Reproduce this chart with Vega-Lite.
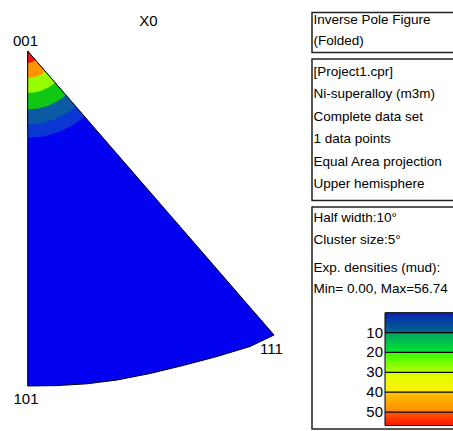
{
  "$schema": "https://vega.github.io/schema/vega-lite/v6.json",
  "width": 453,
  "height": 431,
  "padding": 0,
  "autosize": {"type": "fit", "contains": "padding"},
  "background": "white",
  "config": {"view": {"stroke": null}, "text": {"font": "Liberation Sans", "color": "black"}},
  "datasets": {
    "outline": [
      {"i": 0, "x": 27.7, "y": 51},
      {"i": 1, "x": 27.7, "y": 386},
      {"i": 2, "x": 57, "y": 385.6},
      {"i": 3, "x": 87, "y": 383.8},
      {"i": 4, "x": 117, "y": 380},
      {"i": 5, "x": 150, "y": 373.5},
      {"i": 6, "x": 183, "y": 365.5},
      {"i": 7, "x": 217, "y": 356.5},
      {"i": 8, "x": 250, "y": 346.5},
      {"i": 9, "x": 274, "y": 335},
      {"i": 10, "x": 27.7, "y": 51}
    ],
    "polys": [
      {"band": "b0", "i": 0, "x": 27.7, "y": 51},
      {"band": "b0", "i": 1, "x": 27.7, "y": 386},
      {"band": "b0", "i": 2, "x": 57, "y": 385.6},
      {"band": "b0", "i": 3, "x": 87, "y": 383.8},
      {"band": "b0", "i": 4, "x": 117, "y": 380},
      {"band": "b0", "i": 5, "x": 150, "y": 373.5},
      {"band": "b0", "i": 6, "x": 183, "y": 365.5},
      {"band": "b0", "i": 7, "x": 217, "y": 356.5},
      {"band": "b0", "i": 8, "x": 250, "y": 346.5},
      {"band": "b0", "i": 9, "x": 274, "y": 335},
      {"band": "b0", "i": 10, "x": 27.7, "y": 51},
      {"band": "b6", "i": 0, "x": 27.7, "y": 51},
      {"band": "b6", "i": 1, "x": 27.7, "y": 138},
      {"band": "b6", "i": 2, "x": 43.15, "y": 136.62},
      {"band": "b6", "i": 3, "x": 58.12, "y": 132.51},
      {"band": "b6", "i": 4, "x": 72.11, "y": 125.81},
      {"band": "b6", "i": 5, "x": 84.69, "y": 116.73},
      {"band": "b6", "i": 6, "x": 27.7, "y": 51},
      {"band": "b5", "i": 0, "x": 27.7, "y": 51},
      {"band": "b5", "i": 1, "x": 27.7, "y": 124.5},
      {"band": "b5", "i": 2, "x": 40.75, "y": 123.33},
      {"band": "b5", "i": 3, "x": 53.4, "y": 119.86},
      {"band": "b5", "i": 4, "x": 65.22, "y": 114.2},
      {"band": "b5", "i": 5, "x": 75.84, "y": 106.53},
      {"band": "b5", "i": 6, "x": 27.7, "y": 51},
      {"band": "b4", "i": 0, "x": 27.7, "y": 51},
      {"band": "b4", "i": 1, "x": 27.7, "y": 109.5},
      {"band": "b4", "i": 2, "x": 38.09, "y": 108.57},
      {"band": "b4", "i": 3, "x": 48.15, "y": 105.81},
      {"band": "b4", "i": 4, "x": 57.56, "y": 101.3},
      {"band": "b4", "i": 5, "x": 66.02, "y": 95.2},
      {"band": "b4", "i": 6, "x": 27.7, "y": 51},
      {"band": "b3", "i": 0, "x": 27.7, "y": 51},
      {"band": "b3", "i": 1, "x": 27.7, "y": 93},
      {"band": "b3", "i": 2, "x": 35.16, "y": 92.33},
      {"band": "b3", "i": 3, "x": 42.38, "y": 90.35},
      {"band": "b3", "i": 4, "x": 49.14, "y": 87.12},
      {"band": "b3", "i": 5, "x": 55.21, "y": 82.73},
      {"band": "b3", "i": 6, "x": 27.7, "y": 51},
      {"band": "b2", "i": 0, "x": 27.7, "y": 51},
      {"band": "b2", "i": 1, "x": 27.7, "y": 78},
      {"band": "b2", "i": 2, "x": 32.5, "y": 77.57},
      {"band": "b2", "i": 3, "x": 37.14, "y": 76.3},
      {"band": "b2", "i": 4, "x": 41.48, "y": 74.22},
      {"band": "b2", "i": 5, "x": 45.39, "y": 71.4},
      {"band": "b2", "i": 6, "x": 27.7, "y": 51},
      {"band": "b1", "i": 0, "x": 27.7, "y": 51},
      {"band": "b1", "i": 1, "x": 27.7, "y": 63},
      {"band": "b1", "i": 2, "x": 31.9, "y": 62.24},
      {"band": "b1", "i": 3, "x": 35.56, "y": 60.07},
      {"band": "b1", "i": 4, "x": 27.7, "y": 51}
    ],
    "poles": [
      {"t": "X0", "x": 148.5, "y": 21},
      {"t": "001", "x": 25.5, "y": 40.5},
      {"t": "101", "x": 26, "y": 399},
      {"t": "111", "x": 271.5, "y": 348.5}
    ],
    "info": [
      {"t": "Inverse Pole Figure", "y": 19.5},
      {"t": "(Folded)", "y": 41},
      {"t": "[Project1.cpr]", "y": 71.5},
      {"t": "Ni-superalloy (m3m)", "y": 93.5},
      {"t": "Complete data set", "y": 116.5},
      {"t": "1 data points", "y": 139},
      {"t": "Equal Area projection", "y": 161.5},
      {"t": "Upper hemisphere", "y": 184},
      {"t": "Half width:10°", "y": 218},
      {"t": "Cluster size:5°", "y": 240},
      {"t": "Exp. densities (mud):", "y": 268},
      {"t": "Min= 0.00, Max=56.74", "y": 289}
    ],
    "boxes": [
      {"x": 312, "x2": 460, "y": 12.5, "y2": 52.5},
      {"x": 312, "x2": 460, "y": 59, "y2": 200.5},
      {"x": 312, "x2": 460, "y": 207, "y2": 429}
    ],
    "bar": [{"lo": 0, "hi": 56.74}],
    "levels": [{"level": 10}, {"level": 20}, {"level": 30}, {"level": 40}, {"level": 50}]
  },
  "resolve": {"scale": {"y": "independent"}},
  "layer": [
    {
      "layer": [
        {
          "data": {"name": "polys"},
          "mark": {"type": "line", "filled": true, "strokeWidth": 0},
          "encoding": {
            "x": {"field": "x", "type": "quantitative", "scale": {"domain": [0, 453], "nice": false, "zero": false}, "axis": null},
            "y": {"field": "y", "type": "quantitative", "scale": {"domain": [0, 431], "nice": false, "zero": false, "reverse": true}, "axis": null},
            "order": {"field": "i", "type": "quantitative"},
            "color": {"field": "band", "type": "nominal", "legend": null,
              "scale": {"domain": ["b0", "b6", "b5", "b4", "b3", "b2", "b1"], "range": ["#0202f0", "#0a36d4", "#0a5aa4", "#10c814", "#98ff00", "#ff9400", "#f41010"]}}
          }
        },
        {
          "data": {"name": "outline"},
          "mark": {"type": "line", "stroke": "black", "strokeWidth": 1},
          "encoding": {
            "x": {"field": "x", "type": "quantitative", "scale": {"domain": [0, 453], "nice": false, "zero": false}, "axis": null},
            "y": {"field": "y", "type": "quantitative", "scale": {"domain": [0, 431], "nice": false, "zero": false, "reverse": true}, "axis": null},
            "order": {"field": "i", "type": "quantitative"}
          }
        },
        {
          "data": {"name": "poles"},
          "mark": {"type": "text", "fontSize": 15, "align": "center", "baseline": "middle"},
          "encoding": {
            "x": {"field": "x", "type": "quantitative", "scale": {"domain": [0, 453], "nice": false, "zero": false}, "axis": null},
            "y": {"field": "y", "type": "quantitative", "scale": {"domain": [0, 431], "nice": false, "zero": false, "reverse": true}, "axis": null},
            "text": {"field": "t"}
          }
        },
        {
          "data": {"name": "boxes"},
          "mark": {"type": "rect", "fill": "transparent", "stroke": "#222222", "strokeWidth": 1.5, "clip": true},
          "encoding": {
            "x": {"field": "x", "type": "quantitative", "scale": {"domain": [0, 453], "nice": false, "zero": false}, "axis": null},
            "x2": {"field": "x2"},
            "y": {"field": "y", "type": "quantitative", "scale": {"domain": [0, 431], "nice": false, "zero": false, "reverse": true}, "axis": null},
            "y2": {"field": "y2"}
          }
        },
        {
          "data": {"name": "info"},
          "mark": {"type": "text", "fontSize": 13.5, "align": "left", "baseline": "middle"},
          "encoding": {
            "x": {"datum": 313.5, "type": "quantitative", "scale": {"domain": [0, 453], "nice": false, "zero": false}, "axis": null},
            "y": {"field": "y", "type": "quantitative", "scale": {"domain": [0, 431], "nice": false, "zero": false, "reverse": true}, "axis": null},
            "text": {"field": "t"}
          }
        }
      ]
    },
    {
      "layer": [
        {
          "data": {"name": "bar"},
          "mark": {
            "type": "rect", "clip": true, "stroke": "black", "strokeWidth": 1,
            "fill": {"gradient": "linear", "x1": 0, "y1": 0, "x2": 0, "y2": 1, "stops": [
              {"offset": 0, "color": "#0a22b0"},
              {"offset": 0.176, "color": "#006a8c"},
              {"offset": 0.176, "color": "#00a064"},
              {"offset": 0.352, "color": "#00e830"},
              {"offset": 0.352, "color": "#30ff00"},
              {"offset": 0.528, "color": "#b4ff00"},
              {"offset": 0.528, "color": "#d8ff00"},
              {"offset": 0.705, "color": "#fff000"},
              {"offset": 0.705, "color": "#ffc400"},
              {"offset": 0.881, "color": "#ff8a00"},
              {"offset": 0.881, "color": "#ff5a00"},
              {"offset": 1, "color": "#ff1400"}
            ]}
          },
          "encoding": {
            "x": {"datum": 385, "type": "quantitative", "scale": {"domain": [0, 453], "nice": false, "zero": false}, "axis": null},
            "x2": {"datum": 460},
            "y": {"field": "lo", "type": "quantitative", "scale": {"domain": [0, 56.74], "range": [312.7, 425.5], "nice": false, "zero": false}, "axis": null},
            "y2": {"field": "hi"}
          }
        },
        {
          "data": {"name": "levels"},
          "mark": {"type": "rule", "stroke": "black", "strokeWidth": 1.2, "clip": true},
          "encoding": {
            "x": {"datum": 385, "type": "quantitative", "scale": {"domain": [0, 453], "nice": false, "zero": false}, "axis": null},
            "x2": {"datum": 460},
            "y": {"field": "level", "type": "quantitative", "scale": {"domain": [0, 56.74], "range": [312.7, 425.5], "nice": false, "zero": false}, "axis": null}
          }
        },
        {
          "data": {"name": "levels"},
          "mark": {"type": "text", "fontSize": 15, "align": "right", "baseline": "middle"},
          "encoding": {
            "x": {"datum": 383, "type": "quantitative", "scale": {"domain": [0, 453], "nice": false, "zero": false}, "axis": null},
            "y": {"field": "level", "type": "quantitative", "scale": {"domain": [0, 56.74], "range": [312.7, 425.5], "nice": false, "zero": false}, "axis": null},
            "text": {"field": "level", "type": "quantitative"}
          }
        }
      ]
    }
  ]
}
